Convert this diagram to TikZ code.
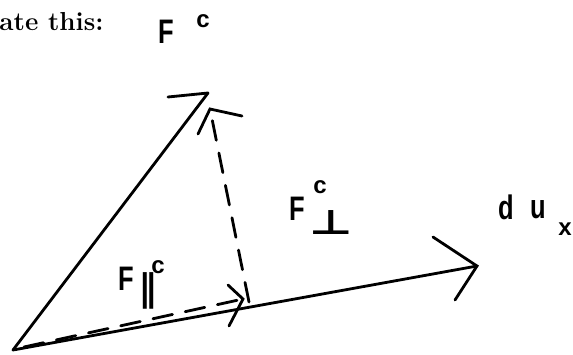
\documentclass[tikz,border=0pt]{standalone}
\usepackage{fontspec}
\newfontfamily\lab{Liberation Sans}
\newfontfamily\symf{DejaVu Sans}
\begin{document}
\begin{tikzpicture}[x=1pt,y=-1pt, line width=2.8pt, line cap=round,
  lbl/.style={font=\lab\bfseries\fontsize{34}{34}\selectfont, inner sep=0pt, xscale=0.75},
  suplbl/.style={font=\lab\bfseries\fontsize{24}{24}\selectfont, inner sep=0pt},
  symlbl/.style={font=\symf\bfseries\fontsize{34}{34}\selectfont, inner sep=0pt},
  dsh/.style={dash pattern=on 20pt off 13pt}]
\useasboundingbox (0,0) rectangle (573,354);
% cropped book text
\node[font=\bfseries\fontsize{26}{26}\selectfont, anchor=west, inner sep=0pt] (book) at (-2,22) {ate this:};
% points
\coordinate (O) at (13,350);
\coordinate (A) at (208,93);
\coordinate (T) at (477,266);
\coordinate (P) at (249,302);
\coordinate (D1) at (210,109);
\coordinate (D2) at (243,299);
\coordinate (Os) at (24,347);
% solid vectors
\draw (O) -- (A);
\draw (A) -- (168,97);
\draw (O) -- (T);
\draw (433,237) -- (T) -- (455,300);
% dashed perpendicular
\draw[dsh] (P) -- (D1);
\draw (198,134) -- (D1) -- (242,116);
% dashed parallel
\draw[dsh] (Os) -- (D2);
\draw (228,285) -- (D2) -- (229,326);
% labels
\node[lbl] (Fc) at (166,32) {F};
\node[suplbl] (Fcs) at (203,21) {c};
\node[lbl] (Fp) at (297,209) {F};
\node[suplbl] (Fps) at (320,187) {c};
\node[symlbl, xscale=1.4] (perp) at (331,223) {⊥};
\node[lbl] (Fl) at (126,279) {F};
\node[symlbl, yscale=1.1] (par) at (148,291) {∥};
\node[suplbl] (Fls) at (158,267) {c};
\node[lbl] (dd) at (506,207) {d};
\node[lbl] (du) at (538,210) {u};
\node[suplbl] (dux) at (565,229) {x};
\end{tikzpicture}
\end{document}
